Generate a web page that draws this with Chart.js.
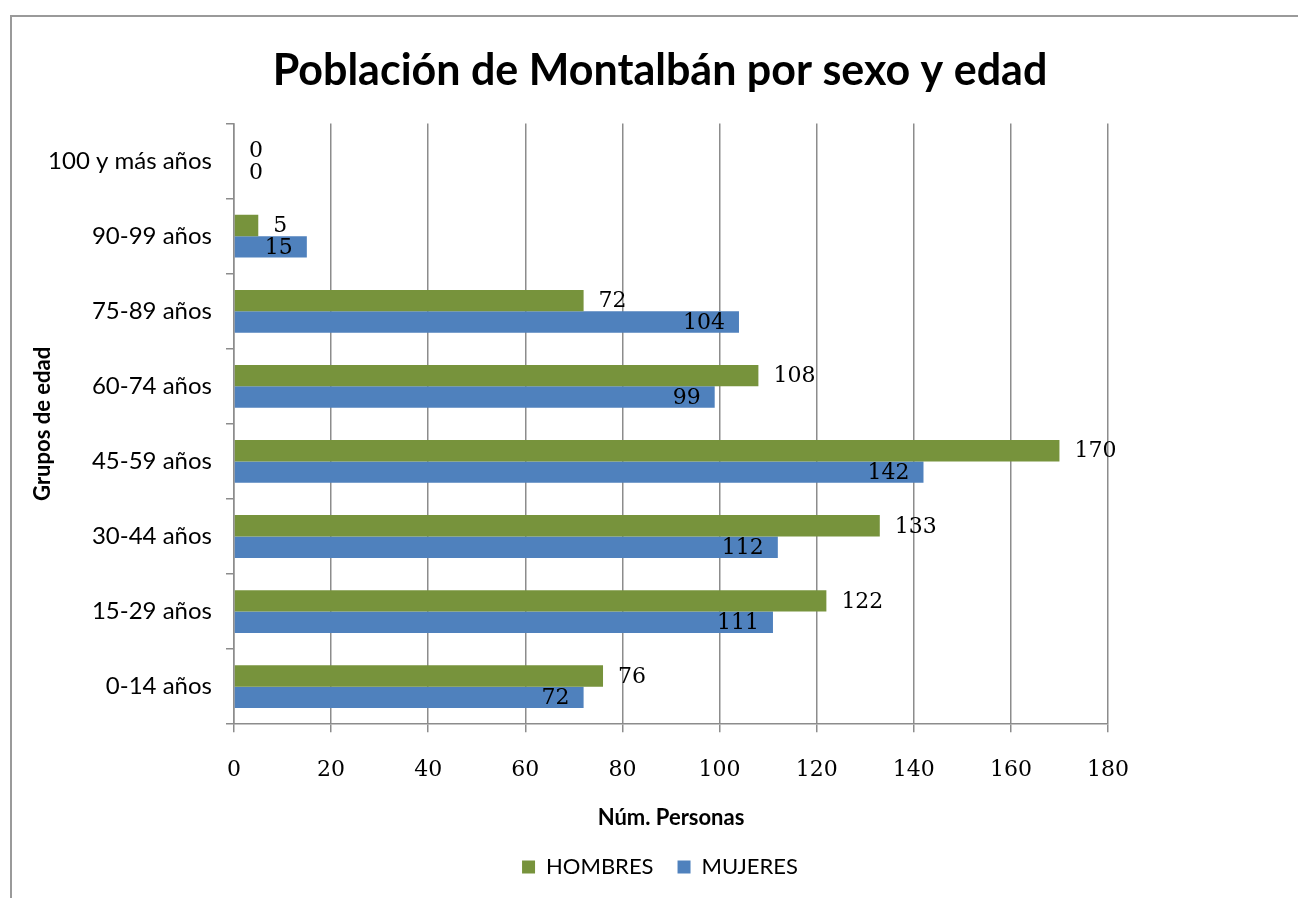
<!DOCTYPE html>
<html><head><meta charset="utf-8">
<script src="https://cdn.jsdelivr.net/npm/chart.js@4/dist/chart.umd.min.js"></script>
<style>
html,body{margin:0;padding:0;background:#fff;overflow:hidden;width:1298px;height:898px;}
#frame{position:absolute;left:10px;top:15px;width:1300px;height:900px;border-top:2px solid #9a9a9a;border-left:2px solid #9a9a9a;}
#wrap{position:absolute;left:0;top:0;width:1298px;height:898px;}
</style></head><body>
<div id="frame"></div>
<div id="wrap"><canvas id="c" width="1298" height="898"></canvas></div>
<script>
const categories = ['100 y más años','90-99 años','75-89 años','60-74 años','45-59 años','30-44 años','15-29 años','0-14 años'];
const hombres = [0, 5, 72, 108, 170, 133, 122, 76];
const mujeres = [0, 15, 104, 99, 142, 112, 111, 72];
const xMin = 0, xMax = 180, xStep = 20;
const seriesNames = ['HOMBRES', 'MUJERES'];

const SANS = 'Lato, "Open Sans", sans-serif';
const SERIF = '"DejaVu Serif", "Liberation Serif", serif';
const GRID = '#8c8c8c';

const valueLabels = {
  id: 'valueLabels',
  afterDatasetsDraw(chart) {
    const ctx = chart.ctx;
    ctx.save();
    ctx.font = '22px ' + SERIF;
    ctx.fillStyle = '#000';
    ctx.textBaseline = 'middle';
    chart.data.datasets.forEach((ds, i) => {
      const meta = chart.getDatasetMeta(i);
      meta.data.forEach((bar, j) => {
        const v = ds.data[j];
        const inside = ds.labelInside && v > 0;
        ctx.textAlign = inside ? 'right' : 'left';
        const x = inside ? bar.x - 14 : bar.x + 15;
        ctx.fillText(String(v), x, bar.y + 1);
      });
    });
    ctx.restore();
  }
};

new Chart(document.getElementById('c'), {
  type: 'bar',
  data: {
    labels: categories,
    datasets: [
      { label: seriesNames[0], data: hombres, backgroundColor: '#77933C', labelInside: false },
      { label: seriesNames[1], data: mujeres, backgroundColor: '#4F81BD', labelInside: true }
    ]
  },
  options: {
    indexAxis: 'y',
    responsive: false,
    animation: false,
    devicePixelRatio: 1,
    layout: { padding: { left: 22, right: 0, top: 0, bottom: 10 } },
    datasets: { bar: { categoryPercentage: 0.57, barPercentage: 1.0 } },
    scales: {
      x: {
        min: xMin, max: xMax,
        ticks: { stepSize: xStep, color: '#000', font: { family: SERIF, size: 22 }, padding: 25 },
        grid: { color: GRID, lineWidth: 1.5, tickLength: 8 },
        border: { color: GRID, width: 1.5 },
        title: { display: true, text: 'Núm. Personas', color: '#000', font: { family: SANS, size: 22, weight: 'bold' }, padding: { top: -4, bottom: 1 } }
      },
      y: {
        afterFit(s) { s.width = 212; },
        ticks: { color: '#000', font: { family: SANS, size: 24 }, padding: 14 },
        grid: { drawOnChartArea: false, color: GRID, lineWidth: 1.5, tickLength: 8, offset: true },
        border: { color: GRID, width: 1.5 },
        title: { display: true, text: 'Grupos de edad', color: '#000', font: { family: SANS, size: 22, weight: 'bold' }, padding: { top: 8, bottom: 4 } }
      },
      y2: {
        type: 'category',
        position: 'right',
        afterFit(s) { s.width = 190; },
        ticks: { display: false },
        grid: { display: false },
        border: { display: false }
      }
    },
    plugins: {
      title: {
        display: true,
        text: 'Población de Montalbán por sexo y edad',
        color: '#000',
        font: { family: SANS, size: 43, weight: 'bold' },
        padding: { top: 45, bottom: 27 }
      },
      legend: {
        position: 'bottom',
        labels: { color: '#000', font: { family: SANS, size: 22 }, boxWidth: 13, boxHeight: 13, padding: 24 }
      },
      tooltip: { enabled: false }
    }
  },
  plugins: [valueLabels]
});
</script>
</body></html>
